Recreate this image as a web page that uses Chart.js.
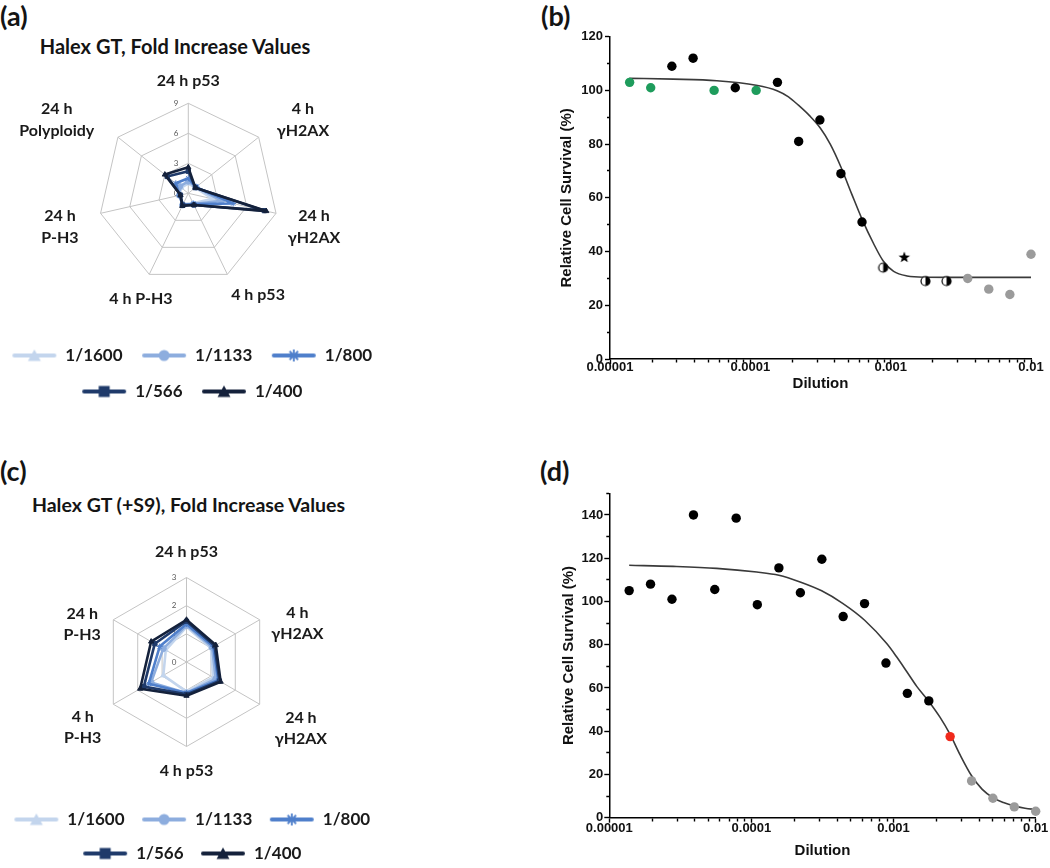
<!DOCTYPE html>
<html><head><meta charset="utf-8">
<script src="https://cdn.jsdelivr.net/npm/chart.js@4/dist/chart.umd.min.js"></script>
<style>
html,body{margin:0;padding:0;background:#fff;overflow:hidden;width:1050px;height:868px}
canvas{position:absolute}
.lbl{position:absolute;font-family:Lato,'Open Sans',sans-serif;font-weight:bold;color:#141414;line-height:1;white-space:nowrap}
</style></head><body>
<div class="lbl" style="left:0;top:2px;font-size:27px">(a)</div>
<div class="lbl" style="left:541px;top:2px;font-size:27px">(b)</div>
<div class="lbl" style="left:0;top:457px;font-size:27px">(c)</div>
<div class="lbl" style="left:540px;top:457px;font-size:27px">(d)</div>
<div class="lbl" style="left:0;width:350px;text-align:center;top:36px;font-size:20px">Halex GT, Fold Increase Values</div>
<div class="lbl" style="left:0;width:377px;text-align:center;top:495px;font-size:19.5px">Halex GT (+S9), Fold Increase Values</div>

<canvas id="ca" width="424" height="350" style="left:-20px;top:60px"></canvas>
<canvas id="cc" width="424" height="351" style="left:-20px;top:521px"></canvas>
<canvas id="cb" width="510" height="383" style="left:540px;top:10px"></canvas>
<canvas id="cd" width="510" height="390" style="left:540px;top:470px"></canvas>

<script>
// ================= DATA =================
// Radar series (dilutions)
const SERIES_NAMES = ['1/1600', '1/1133', '1/800', '1/566', '1/400'];

// (a) Halex GT, fold increase values
const A_CATEGORIES = ['24 h p53', ['4 h', 'γH2AX'], ['24 h', 'γH2AX'], '4 h p53', '4 h P-H3', ['24 h', 'P-H3'], ['24 h', 'Polyploidy']];
const A_1600 = [1.0, 0.9, 2.5, 1.1, 1.2, 0.9, 0.9];
const A_1133 = [1.2, 1.0, 3.4, 1.2, 1.3, 0.9, 1.1];
const A_800  = [1.5, 1.0, 4.6, 1.2, 1.3, 0.9, 1.6];
const A_566  = [2.2, 0.9, 7.8, 1.3, 1.3, 0.8, 2.7];
const A_400  = [2.6, 0.9, 8.0, 1.3, 1.4, 0.8, 3.0];
const A_AXIS_MAX = 9, A_AXIS_STEP = 3;

// (c) Halex GT (+S9), fold increase values
const C_CATEGORIES = ['24 h p53', ['4 h', 'γH2AX'], ['24 h', 'γH2AX'], '4 h p53', ['4 h', 'P-H3'], ['24 h', 'P-H3']];
const C_1600 = [1.25, 1.0, 1.1, 1.05, 0.95, 0.85];
const C_1133 = [1.3, 1.05, 1.2, 1.1, 1.45, 0.95];
const C_800  = [1.35, 1.1, 1.3, 1.1, 1.55, 1.1];
const C_566  = [1.45, 1.15, 1.35, 1.15, 1.75, 1.3];
const C_400  = [1.5, 1.2, 1.4, 1.2, 1.9, 1.45];
const C_AXIS_MAX = 3, C_AXIS_STEP = 1;

// (b) dose response, Halex GT
const B_GREEN_X = [0.0000138, 0.0000195, 0.0000552, 0.000110];
const B_GREEN_Y = [103, 101, 100, 100];
const B_BLACK_X = [0.0000276, 0.0000391, 0.0000781, 0.000156, 0.000221, 0.000313, 0.000442, 0.000625];
const B_BLACK_Y = [109, 112, 101, 103, 81, 89, 69, 51];
const B_HALF_X = [0.000884, 0.00177, 0.0025];
const B_HALF_Y = [34, 29, 29];
const B_STAR_X = [0.00125];
const B_STAR_Y = [38];
const B_GREY_X = [0.00354, 0.005, 0.00707, 0.01];
const B_GREY_Y = [30, 26, 24, 39];
// fitted curve
const B_FIT_X = [0.0000137, 0.0000283, 0.0000577, 0.00011, 0.000155, 0.000187, 0.00022, 0.000264, 0.000315, 0.000371, 0.000442, 0.000529, 0.000626, 0.000755, 0.000885, 0.00105, 0.00131, 0.00178, 0.00297, 0.01];
const B_FIT_Y = [104.5, 104.2, 103.6, 101.9, 99.9, 97.6, 94.5, 90.6, 86.0, 80.0, 71.5, 61.3, 52.0, 43.0, 36.5, 32.6, 30.9, 30.45, 30.4, 30.4];
const B_Y_MAX = 120;

// (d) dose response, Halex GT (+S9)
const D_BLACK_X = [0.0000138, 0.0000195, 0.0000276, 0.0000391, 0.0000552, 0.0000781, 0.000110, 0.000156, 0.000221, 0.000313, 0.000442, 0.000625, 0.000884, 0.00125, 0.00177];
const D_BLACK_Y = [105, 108, 101, 140, 105.5, 138.5, 98.5, 115.5, 104, 119.5, 93, 99, 71.5, 57.5, 54];
const D_RED_X = [0.0025];
const D_RED_Y = [37.5];
const D_GREY_X = [0.00354, 0.005, 0.00707, 0.01];
const D_GREY_Y = [17, 9, 5, 3];
// fitted curve
const D_FIT_X = [0.0000138, 0.0000282, 0.0000569, 0.000109, 0.000156, 0.00022, 0.000312, 0.000441, 0.000626, 0.000895, 0.00105, 0.00124, 0.00146, 0.00176, 0.00212, 0.0025, 0.00294, 0.00353, 0.00419, 0.00499, 0.00593, 0.00708, 0.00841, 0.01];
const D_FIT_Y = [116.7, 116.2, 115.3, 113.6, 112.1, 109.0, 104.9, 99.0, 91.3, 80.5, 74.4, 67.5, 60.6, 54.0, 46.5, 38.5, 29.0, 19.5, 13.2, 9.3, 7.0, 5.4, 4.4, 3.8];
const D_Y_MAX = 150;

// Axis tick labels
const X_MAJOR = [0.00001, 0.0001, 0.001, 0.01];
const X_TICK_LABELS = ['0.00001', '0.0001', '0.001', '0.01'];
const Y_LABEL_STEP = 20, Y_MINOR_STEP = 10;

// ================= STYLE =================
const SERIES_COLORS = ['#c3d5ed', '#8dadde', '#4f7fcb', '#1f3a6a', '#14213b'];
const SERIES_MARKERS = ['triangle', 'circle', 'star', 'rect', 'triangle'];
const PL_FONT = {family: 'Lato', size: 16, weight: 'bold', lineHeight: 1.35};
const GRID_GREY = '#c4c4c4';
const GREEN = '#1e9c5c', GREY = '#9b9b9b', RED = '#f02a1c', CURVE = '#3a3a3a';
const SANS = "'Liberation Sans', Arial, sans-serif";

// ================= HELPERS =================
function legendIcon(color, marker) {
  const c = document.createElement('canvas');
  c.width = 46; c.height = 14;
  const g = c.getContext('2d');
  g.strokeStyle = color; g.fillStyle = color; g.lineWidth = 4; g.lineCap = 'round';
  g.beginPath(); g.moveTo(3, 7); g.lineTo(43, 7); g.stroke();
  if (marker === 'triangle') {
    g.beginPath(); g.moveTo(23, 1); g.lineTo(29.5, 12.5); g.lineTo(16.5, 12.5); g.closePath(); g.fill();
  } else if (marker === 'circle') {
    g.beginPath(); g.arc(23, 7, 5.5, 0, Math.PI * 2); g.fill();
  } else if (marker === 'rect') {
    g.fillRect(17.5, 1.5, 11, 11);
  } else if (marker === 'star') {
    g.lineWidth = 1.8; g.lineCap = 'butt';
    for (let k = 0; k < 4; k++) {
      const a = k * Math.PI / 4;
      g.beginPath(); g.moveTo(23 - 6 * Math.cos(a), 7 - 6 * Math.sin(a)); g.lineTo(23 + 6 * Math.cos(a), 7 + 6 * Math.sin(a)); g.stroke();
    }
  }
  return c;
}
const LEGEND_ICONS = SERIES_NAMES.map((n, i) => legendIcon(SERIES_COLORS[i], SERIES_MARKERS[i]));

function radarPlacer(cx, cy, r, offsets) {
  return function (scale) {
    scale.xCenter = cx; scale.yCenter = cy; scale.drawingArea = r;
    const lh = PL_FONT.size * PL_FONT.lineHeight;
    const ctx = scale.ctx;
    ctx.save();
    ctx.font = PL_FONT.weight + ' ' + PL_FONT.size + 'px ' + PL_FONT.family;
    scale._pointLabelItems = scale._pointLabels.map((lab, i) => {
      const lines = Array.isArray(lab) ? lab : [lab];
      const w = Math.max(...lines.map(t => ctx.measureText(t).width));
      const h = lines.length * lh;
      const p = scale.getPointPosition(i, r);
      const x = p.x + offsets[i][0], y = p.y + offsets[i][1];
      return {visible: true, x: x, y: y - h / 2, textAlign: 'center', left: x - w / 2, right: x + w / 2, top: y - h / 2, bottom: y + h / 2};
    });
    ctx.restore();
  };
}

const radarTickPlugin = {
  id: 'radarTicks',
  beforeDatasetsDraw(chart) {
    const s = chart.scales.r;
    const ctx = chart.ctx;
    ctx.save();
    ctx.font = '8px Lato'; ctx.fillStyle = '#595959';
    ctx.textAlign = 'right'; ctx.textBaseline = 'middle';
    s.ticks.forEach(t => {
      const d = s.getDistanceFromCenterForValue(t.value);
      ctx.fillText(t.label !== undefined ? t.label : String(t.value), s.xCenter - 10, s.yCenter - d);
    });
    ctx.restore();
  }
};

function radarChart(id, labels, seriesData, max, step, center, offsets, legendPad) {
  const datasets = seriesData.map((d, i) => ({
    label: SERIES_NAMES[i], data: d,
    borderColor: SERIES_COLORS[i], backgroundColor: SERIES_COLORS[i],
    pointBackgroundColor: SERIES_COLORS[i], pointBorderColor: SERIES_COLORS[i],
    borderWidth: 2.6, borderJoinStyle: 'round', fill: false,
    pointStyle: SERIES_MARKERS[i], pointRadius: 3, pointBorderWidth: 1,
    order: seriesData.length - 1 - i
  }));
  return new Chart(document.getElementById(id), {
    type: 'radar',
    data: {labels: labels, datasets: datasets},
    plugins: [radarTickPlugin],
    options: {
      responsive: false, animation: false, events: [],
      layout: {padding: 0},
      elements: {line: {tension: 0}},
      scales: {
        r: {
          min: 0, max: max,
          ticks: {stepSize: step, display: false},
          grid: {color: GRID_GREY, lineWidth: 1},
          angleLines: {color: GRID_GREY, lineWidth: 1},
          pointLabels: {font: PL_FONT, color: '#1a1a1a'},
          afterFit: radarPlacer(center[0], center[1], center[2], offsets)
        }
      },
      plugins: {
        tooltip: {enabled: false},
        legend: {
          position: 'bottom',
          labels: {
            usePointStyle: true, pointStyleWidth: 45, padding: legendPad,
            font: {family: 'Lato', size: 17, weight: 'bold'}, color: '#1a1a1a',
            sort: (a, b) => a.datasetIndex - b.datasetIndex,
            generateLabels: (chart) => {
              const items = Chart.defaults.plugins.legend.labels.generateLabels(chart);
              items.forEach(it => { it.pointStyle = LEGEND_ICONS[it.datasetIndex]; });
              return items;
            }
          }
        }
      }
    }
  });
}

// ---- radar (a) ----
radarChart('ca', A_CATEGORIES, [A_1600, A_1133, A_800, A_566, A_400], A_AXIS_MAX, A_AXIS_STEP,
  [208.3, 133.3, 90],
  [[0, -22.8], [44.3, -17.2], [38, 13.4], [30.7, 20.6], [-8.3, 24.6], [-40.6, 13.4], [-61.2, -17.2]], 19);

// ---- radar (c) ----
radarChart('cc', C_CATEGORIES, [C_1600, C_1133, C_800, C_566, C_400], C_AXIS_MAX, C_AXIS_STEP,
  [206.5, 141, 84.5],
  [[0, -25.8], [37.7, 3.7], [41.2, 24.1], [0, 24], [-30.6, 23.1], [-31.1, 4.5]], 17);

// ---------- dose response plots ----------
function halfMarker() {
  const c = document.createElement('canvas'); c.width = 13; c.height = 13;
  const g = c.getContext('2d');
  g.beginPath(); g.arc(6.5, 6.5, 4.5, 0, Math.PI * 2); g.fillStyle = '#fff'; g.fill();
  g.beginPath(); g.arc(6.5, 6.5, 4.5, -Math.PI / 2, Math.PI / 2); g.closePath(); g.fillStyle = '#000'; g.fill();
  g.beginPath(); g.arc(6.5, 6.5, 4.5, 0, Math.PI * 2); g.strokeStyle = '#000'; g.lineWidth = 1.2; g.stroke();
  return c;
}
function starMarker() {
  const c = document.createElement('canvas'); c.width = 14; c.height = 14;
  const g = c.getContext('2d');
  g.beginPath();
  for (let k = 0; k < 10; k++) {
    const rr = k % 2 === 0 ? 6 : 2.5;
    const a = -Math.PI / 2 + k * Math.PI / 5;
    const px = 7 + rr * Math.cos(a), py = 7.5 + rr * Math.sin(a);
    if (k === 0) g.moveTo(px, py); else g.lineTo(px, py);
  }
  g.closePath(); g.fillStyle = '#000'; g.fill();
  return c;
}
const HALF_IMG = halfMarker(), STAR_IMG = starMarker();

function xy(xs, ys) { return xs.map((x, i) => ({x: x, y: ys[i]})); }
function isXMajor(v) { return X_MAJOR.some(m => Math.abs(m - v) / m < 1e-6); }
function xTickValues() {
  const out = [];
  X_MAJOR.forEach((d, k) => {
    out.push(d);
    if (k < X_MAJOR.length - 1) for (let m = 2; m <= 9; m++) out.push(m * d);
  });
  return out;
}

function doseChart(id, pts, fit, yMax, geom) {
  const datasets = [{
    data: xy(fit[0], fit[1]), showLine: true, pointRadius: 0, borderColor: CURVE, borderWidth: 1.6,
    cubicInterpolationMode: 'monotone', fill: false, clip: false, order: 10
  }];
  pts.forEach(p => datasets.push({
    data: xy(p.x, p.y), showLine: false, pointStyle: p.style || 'circle', pointRadius: 4.7,
    backgroundColor: p.color, borderColor: p.color, borderWidth: 0, clip: false, order: 1
  }));
  const tickFont = {family: SANS, size: 13, weight: 'bold', lineHeight: 1};
  return new Chart(document.getElementById(id), {
    type: 'scatter',
    data: {datasets: datasets},
    options: {
      responsive: false, animation: false, events: [],
      layout: {padding: geom.pad},
      plugins: {legend: {display: false}, tooltip: {enabled: false}},
      scales: {
        x: {
          type: 'logarithmic', min: X_MAJOR[0], max: X_MAJOR[X_MAJOR.length - 1],
          afterBuildTicks: (s) => { s.ticks = xTickValues().map(v => ({value: v, major: isXMajor(v)})); },
          afterFit: (s) => { s.height = geom.xh; },
          ticks: {
            autoSkip: false, maxRotation: 0, minRotation: 0, padding: geom.xpad, color: '#111', font: tickFont,
            callback: (v) => { const i = X_MAJOR.findIndex(m => Math.abs(m - v) / m < 1e-6); return i >= 0 ? X_TICK_LABELS[i] : ''; }
          },
          grid: {
            drawOnChartArea: false, drawTicks: true, tickLength: 5, tickColor: '#000', tickWidth: 1.4,
            tickBorderDash: (c) => (c.tick && isXMajor(c.tick.value)) ? [] : [3, 100]
          },
          border: {display: true, color: '#000', width: 1.5},
          title: {display: true, text: 'Dilution', color: '#111', padding: {top: 0, bottom: 0}, font: {family: SANS, size: 15, weight: 'bold', lineHeight: 1.2}}
        },
        y: {
          min: 0, max: yMax,
          afterFit: (s) => { s.width = geom.yw; },
          ticks: {
            stepSize: Y_MINOR_STEP, autoSkip: false, padding: geom.ypad, color: '#111', font: tickFont,
            callback: (v) => (v % Y_LABEL_STEP === 0 ? String(v) : '')
          },
          grid: {
            drawOnChartArea: false, drawTicks: true, tickLength: 5, tickColor: '#000', tickWidth: 1.4,
            tickBorderDash: (c) => (c.tick && c.tick.value % Y_LABEL_STEP === 0) ? [] : [0, 2, 3, 100]
          },
          border: {display: true, color: '#000', width: 1.5},
          title: {display: true, text: 'Relative Cell Survival (%)', color: '#111', padding: {top: 0, bottom: 0}, font: {family: SANS, size: 15, weight: 'bold', lineHeight: 1.2}}
        }
      }
    }
  });
}

// ---- (b) ----
doseChart('cb', [
  {x: B_GREEN_X, y: B_GREEN_Y, color: GREEN},
  {x: B_BLACK_X, y: B_BLACK_Y, color: '#000'},
  {x: B_HALF_X, y: B_HALF_Y, color: '#000', style: HALF_IMG},
  {x: B_STAR_X, y: B_STAR_Y, color: '#000', style: STAR_IMG},
  {x: B_GREY_X, y: B_GREY_Y, color: GREY}
], [B_FIT_X, B_FIT_Y], B_Y_MAX, {pad: {left: 18, top: 26.7, right: 19, bottom: 0}, yw: 52, xh: 34, xpad: -3, ypad: 2});

// ---- (d) ----
doseChart('cd', [
  {x: D_BLACK_X, y: D_BLACK_Y, color: '#000'},
  {x: D_RED_X, y: D_RED_Y, color: RED},
  {x: D_GREY_X, y: D_GREY_Y, color: GREY}
], [D_FIT_X, D_FIT_Y], D_Y_MAX, {pad: {left: 20, top: 23.3, right: 14.3, bottom: 0}, yw: 49.3, xh: 42.3, xpad: -1, ypad: 1});
</script>
</body></html>
